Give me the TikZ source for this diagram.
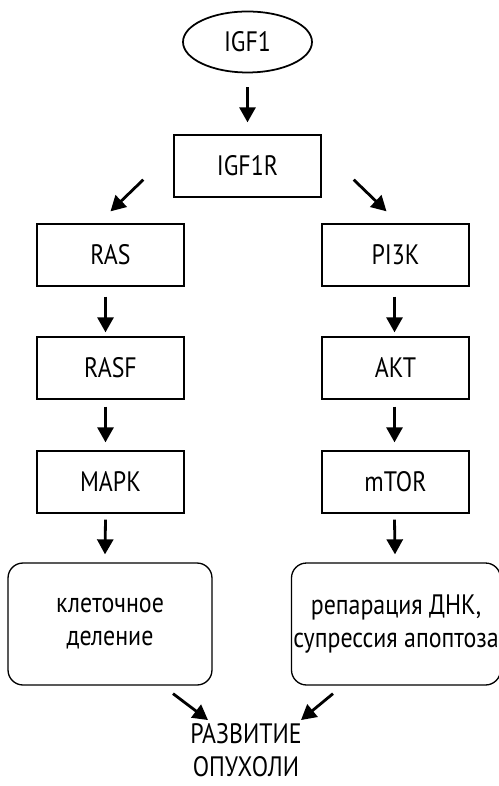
\documentclass[tikz,border=0pt]{standalone}
\usepackage{fontspec}
\setmainfont{PT Sans}[FakeStretch=0.85]
\usepackage{tikz}
\usetikzlibrary{shapes.geometric, arrows.meta, calc}

\begin{document}
\begin{tikzpicture}[
    x=0.02cm, y=-0.02cm,
    pbox/.style={rectangle, draw, line width=0.75pt, minimum width=2.94cm, minimum height=1.24cm,
      font=\fontsize{16}{18.7}\selectfont, inner sep=1pt, align=center},
    ebox/.style={ellipse, draw, line width=1pt, minimum width=2.58cm, minimum height=1.22cm,
      font=\fontsize{16}{18.7}\selectfont, inner sep=1pt},
    sbox/.style={rectangle, rounded corners=0.3cm, draw, line width=0.75pt, minimum width=4.08cm,
      minimum height=2.44cm, font=\fontsize{16}{18.7}\selectfont, inner sep=1pt, align=center},
    parr/.style={-{Triangle[length=0.3cm, width=0.32cm]}, line width=1.6pt}
  ]
  \useasboundingbox (0,0) rectangle (499,786);

  % receptor
  \node[ebox] (igf) at (247.5,42) {IGF1};
  \node[pbox] (igfr) at (247.5,166) {IGF1R};

  % RAS branch
  \node[pbox] (ras) at (110.5,255) {RAS};
  \node[pbox] (rasf) at (110.5,368) {RASF};
  \node[pbox] (mapk) at (110.5,482) {MAPK};
  \node[sbox] (cell) at (110,624) {клеточное\\деление};

  % PI3K branch
  \node[pbox] (pik) at (395.5,255) {PI3K};
  \node[pbox] (akt) at (395.5,368) {AKT};
  \node[pbox] (mtor) at (395.5,482) {mTOR};
  \node[sbox] (dna) at (396,624) {репарация ДНК,\\супрессия апоптоза};

  \node[align=center, inner sep=0pt, font=\fontsize{16}{18.7}\selectfont] (tumour) at (246,750) {РАЗВИТИЕ\\ОПУХОЛИ};

  \draw[parr, shorten <=0.28cm, shorten >=0.24cm] (igf) -- (igfr);
  \draw[parr] ($(igfr.south west)+(-30,-18)$) -- ($(ras.north)+(0,-12)$);
  \draw[parr] ($(igfr.south east)+(32,-18)$) -- ($(pik.north)+(-9,-12)$);

  \draw[parr] ($(ras.south)+(-5,10)$) -- ($(rasf.north)+(-5,-4)$);
  \draw[parr] ($(rasf.south)+(-5,7)$) -- ($(mapk.north)+(-5,-8)$);
  \draw[parr] ($(mapk.south)+(-5,6)$) -- ($(cell.north)+(-5,-8)$);

  \draw[parr] ($(pik.south)+(-1,10)$) -- ($(akt.north)+(-1,-4)$);
  \draw[parr] ($(akt.south)+(-1,7)$) -- ($(mtor.north)+(-1,-8)$);
  \draw[parr] ($(mtor.south)+(-1,6)$) -- ($(dna.north)+(-1,-8)$);

  \draw[parr] ($(cell.south)+(63,8)$) -- ($(tumour.north)+(-38,-3)$);
  \draw[parr] ($(dna.south)+(-63,8)$) -- ($(tumour.north)+(55,-3)$);
\end{tikzpicture}
\end{document}
